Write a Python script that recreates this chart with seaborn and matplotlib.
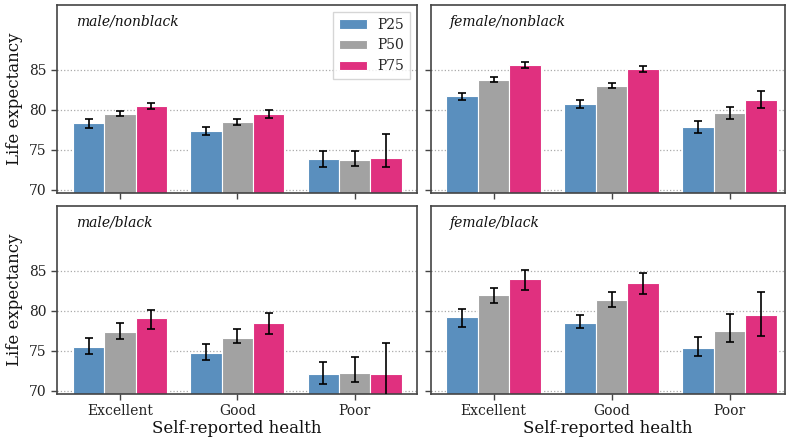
import numpy as np
import pandas as pd
import matplotlib
matplotlib.use("Agg")
import matplotlib.pyplot as plt
import seaborn as sns

# Self-reported health categories and income percentiles
health = ["Excellent", "Good", "Poor"]
percentiles = ["P25", "P50", "P75"]
panels = ["male/nonblack", "female/nonblack", "male/black", "female/black"]

# Life expectancy estimates: rows = percentile (P25, P50, P75), cols = health
le_male_nonblack = [[78.33, 77.33, 73.83], [79.46, 78.42, 73.71], [80.46, 79.46, 73.96]]
lo_male_nonblack = [[77.70, 76.80, 72.80], [79.17, 78.04, 73.00], [80.10, 79.00, 72.80]]
hi_male_nonblack = [[78.80, 77.90, 74.80], [79.79, 78.88, 74.90], [80.90, 80.00, 77.00]]

le_female_nonblack = [[81.71, 80.71, 77.83], [83.71, 82.96, 79.58], [85.58, 85.08, 81.25]]
lo_female_nonblack = [[81.20, 80.25, 77.08], [83.42, 82.67, 78.83], [85.17, 84.67, 80.25]]
hi_female_nonblack = [[82.04, 81.21, 78.58], [84.04, 83.38, 80.29], [85.96, 85.50, 82.29]]

le_male_black = [[75.46, 74.67, 72.04], [77.29, 76.58, 72.17], [79.08, 78.46, 72.04]]
lo_male_black = [[74.54, 73.83, 70.88], [76.50, 75.92, 71.04], [77.75, 77.04, 68.00]]
hi_male_black = [[76.54, 75.79, 73.54], [78.46, 77.75, 74.17], [80.13, 79.67, 76.00]]

le_female_black = [[79.21, 78.42, 75.29], [81.92, 81.33, 77.42], [83.92, 83.46, 79.42]]
lo_female_black = [[78.00, 77.79, 74.29], [80.96, 80.50, 76.04], [82.54, 82.13, 76.79]]
hi_female_black = [[80.25, 79.50, 76.71], [82.88, 82.33, 79.58], [85.04, 84.71, 82.38]]

yticks = [70, 75, 80, 85]
colors = ["#5a8fbe", "#a2a2a2", "#e0307f"]

estimates = {
    "male/nonblack": (le_male_nonblack, lo_male_nonblack, hi_male_nonblack),
    "female/nonblack": (le_female_nonblack, lo_female_nonblack, hi_female_nonblack),
    "male/black": (le_male_black, lo_male_black, hi_male_black),
    "female/black": (le_female_black, lo_female_black, hi_female_black),
}

rows = []
for panel in panels:
    le, lo, hi = estimates[panel]
    for i, p in enumerate(percentiles):
        for j, h in enumerate(health):
            rows.append(dict(panel=panel, health=h, pct=p,
                             est=le[i][j], lo=lo[i][j], hi=hi[i][j]))
df = pd.DataFrame(rows)

sns.set_style("ticks")
plt.rcParams["font.family"] = ["DejaVu Serif"]

fig = plt.figure(figsize=(7.86, 4.38), dpi=100)
W, H = 786, 438
boxes = [
    (57, 5, 417, 193), (431, 5, 785, 193),
    (57, 206, 417, 394), (431, 206, 785, 394),
]
xlims = [(-0.536, 2.53), (-0.53, 2.47), (-0.536, 2.53), (-0.53, 2.47)]

for k, panel in enumerate(panels):
    x0, y0, x1, y1 = boxes[k]
    ax = fig.add_axes([x0 / W, 1 - y1 / H, (x1 - x0) / W, (y1 - y0) / H])
    sub = df[df.panel == panel]
    sns.barplot(data=sub, x="health", y="est", hue="pct", order=health,
                hue_order=percentiles, palette=colors, saturation=1,
                errorbar=None, width=0.8, edgecolor="white", linewidth=0.8,
                ax=ax, legend=(k == 0))
    # asymmetric confidence intervals on each bar
    for i, p in enumerate(percentiles):
        cont = ax.containers[i]
        s = sub[sub.pct == p].set_index("health").loc[health]
        est = s["est"].to_numpy()
        lo = s["lo"].to_numpy()
        hi = s["hi"].to_numpy()
        xs = [b.get_x() + b.get_width() / 2 for b in cont]
        ax.errorbar(xs, est, yerr=[est - lo, hi - est],
                    fmt="none", ecolor="black", elinewidth=1.2, capsize=3,
                    capthick=1.2, zorder=5)
    ax.set_ylim(69.6, 93.1)
    ax.set_xlim(*xlims[k])
    ax.set_yticks(yticks)
    ax.set_axisbelow(True)
    ax.yaxis.grid(True, linestyle=":", color="#aaaaaa", linewidth=0.9)
    for sp in ax.spines.values():
        sp.set_color("#444444")
        sp.set_linewidth(1.2)
    ax.tick_params(axis="both", colors="#444444", labelcolor="#222222",
                   labelsize=10, length=4, width=1)
    ax.text(0.053, 0.91, panel, transform=ax.transAxes, ha="left",
            va="center", fontsize=10, style="italic", color="#111111")
    if k % 2 == 0:
        ax.set_ylabel("Life expectancy", fontsize=12, color="#111111")
    else:
        ax.set_ylabel("")
        ax.set_yticklabels([])
    if k >= 2:
        ax.set_xlabel("Self-reported health", fontsize=12, color="#111111",
                      labelpad=1)
    else:
        ax.set_xlabel("")
        ax.set_xticklabels([])
    if k == 0:
        leg = ax.legend(loc="upper right", fontsize=10, fancybox=False,
                        edgecolor="#cccccc", handlelength=2.0,
                        borderaxespad=0.5, title=None)
        leg.get_frame().set_linewidth(1.0)

fig.savefig("out.png", dpi=100)
